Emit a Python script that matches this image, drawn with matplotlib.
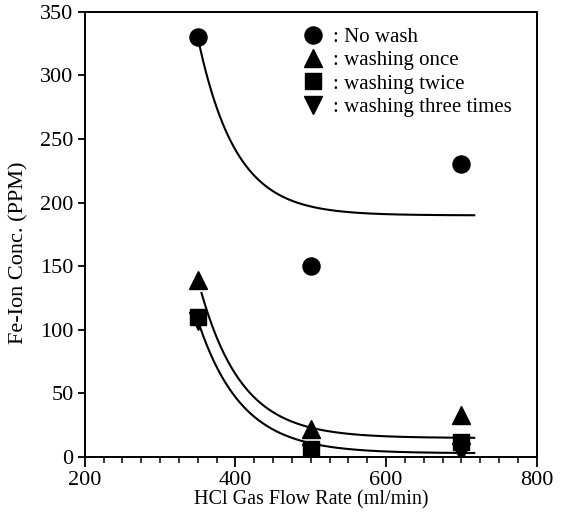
import numpy as np
import matplotlib
matplotlib.use('Agg')
import matplotlib.pyplot as plt
from matplotlib.ticker import MultipleLocator

plt.rcParams['font.family'] = ['Liberation Serif', 'DejaVu Serif']

# ____________________________ Datos medidos ____________________________

flow = [350, 500, 700]
no_wash = [330, 150, 230]
wash_once = [139, 22, 33]
wash_twice = [110, 6, 12]
wash_three = [107, 3, 4]

labels = [': No wash', ': washing once', ': washing twice', ': washing three times']

# ajustes exponenciales y = c + a*exp(-(x-x0)/t)
fit_x0 = [350, 355, 352]
fit_end = 717
fit_c = [190, 15, 3]
fit_a = [140, 114, 101]
fit_t = [50, 55, 58]

# ____________________________ Gráfica ____________________________

fig = plt.figure(figsize=(5.65, 5.13), dpi=100)
ax = fig.add_axes([0.150, 0.109, 0.800, 0.868])

for x0, c, a, t in zip(fit_x0, fit_c, fit_a, fit_t):
    xs = np.linspace(x0, fit_end, 300)
    ax.plot(xs, c + a * np.exp(-(xs - x0) / t), color='black', lw=1.5)

ax.plot(flow, no_wash, 'o', color='black', ms=12.3, ls='none', label=labels[0])
ax.plot(flow, wash_once, '^', color='black', ms=13, ls='none', label=labels[1])
ax.plot(flow, wash_twice, 's', color='black', ms=11.5, ls='none', label=labels[2])
ax.plot(flow, wash_three, 'v', color='black', ms=13, ls='none', label=labels[3])

ax.set_xlim(200, 800)
ax.set_ylim(0, 350)
ax.xaxis.set_major_locator(MultipleLocator(200))
ax.xaxis.set_minor_locator(MultipleLocator(25))
ax.yaxis.set_major_locator(MultipleLocator(50))
ax.tick_params(axis='both', which='both', direction='out', labelsize=16,
               top=False, right=False, pad=3)
ax.tick_params(axis='x', which='major', length=7, width=1.3)
ax.tick_params(axis='x', which='minor', length=4, width=1.1)
ax.tick_params(axis='y', which='major', length=5, width=1.3)
for s in ax.spines.values():
    s.set_linewidth(1.4)

ax.set_xlabel('HCl Gas Flow Rate (ml/min)', fontsize=14.5, labelpad=0)
ax.set_ylabel('Fe-Ion Conc. (PPM)', fontsize=16)
ax.yaxis.set_label_coords(-0.125, 0.46)

ax.legend(loc='upper left', bbox_to_anchor=(0.483, 0.965), frameon=False,
          fontsize=15, handlelength=1.0, handletextpad=0.46,
          labelspacing=0.18, borderpad=0, borderaxespad=0)

fig.savefig('out.png', dpi=100)
